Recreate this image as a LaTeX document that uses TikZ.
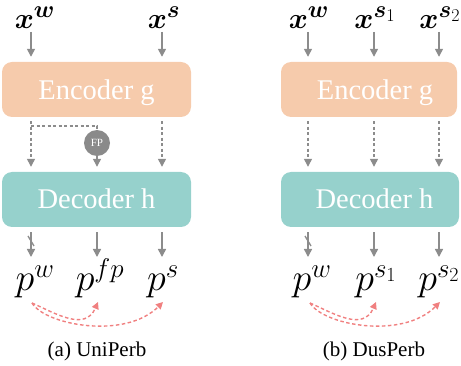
\RequirePackage{fix-cm}
\documentclass[tikz,border=0pt]{standalone}
\usepackage{amsmath,bm}
\usepackage{fontspec}
\setmainfont{Liberation Serif}
\usetikzlibrary{arrows.meta}
\DeclareMathSizes{29}{29}{24}{18}
\DeclareMathSizes{38}{38}{27}{20}
\definecolor{encc}{RGB}{246,203,172}
\definecolor{decc}{RGB}{150,209,204}
\definecolor{arrc}{RGB}{140,140,140}
\definecolor{fpc}{RGB}{138,138,138}
\definecolor{salm}{RGB}{240,128,128}
\tikzset{
  encbox/.style={fill=encc, rounded corners=10pt, minimum height=55pt, inner sep=0pt},
  decbox/.style={fill=decc, rounded corners=10pt, minimum height=55pt, inner sep=0pt},
  boxtext/.style={text=white, font=\fontsize{28.5}{34}\selectfont, inner sep=0pt, anchor=base},
  xlab/.style={font=\fontsize{29}{34}\selectfont, inner sep=0pt, anchor=base},
  plab/.style={font=\fontsize{38}{44}\selectfont, inner sep=0pt, anchor=base},
  caplab/.style={font=\fontsize{21}{25}\selectfont, inner sep=0pt, anchor=base},
  garrow/.style={draw=arrc, line width=1.5pt, -{Triangle[width=8pt,length=8pt]}},
  gdash/.style={draw=arrc, line width=1.3pt, dash pattern=on 3pt off 2.5pt},
  gdasharrow/.style={gdash, -{Triangle[width=8pt,length=8pt]}},
  rarrow/.style={draw=salm, line width=1.4pt, dash pattern=on 3.5pt off 2.5pt, -{Triangle[width=7pt,length=7pt]}},
  fpnode/.style={circle, fill=fpc, minimum size=26pt, inner sep=0pt, text=white, font=\fontsize{11}{13}\selectfont},
}
\begin{document}
\begin{tikzpicture}[x=1pt,y=-1pt]
\useasboundingbox (0,0) rectangle (461,366);
% columns
\coordinate (cA1) at (31,0);
\coordinate (cA2) at (97,0);
\coordinate (cA3) at (162,0);
\coordinate (cB1) at (308,0);
\coordinate (cB2) at (374,0);
\coordinate (cB3) at (439,0);
\coordinate (xbot) at (0,32);
\coordinate (ptop) at (0,257);
% boxes
\node[encbox, minimum width=189pt] (encA) at (96.5,89.5) {};
\node[decbox, minimum width=189pt] (decA) at (96.5,199.5) {};
\node[encbox, minimum width=176pt] (encB) at (369,89.5) {};
\node[decbox, minimum width=178pt] (decB) at (370,199.5) {};
\node[boxtext] (encAt) at (96.5,100) {Encoder g};
\node[boxtext] (decAt) at (96.5,209) {Decoder h};
\node[boxtext] (encBt) at (375,100) {Encoder g};
\node[boxtext] (decBt) at (374.5,209) {Decoder h};
% input labels
\node[xlab] (xwA) at (35,28.5) {$\bm{x}^{\bm{w}}$};
\node[xlab] (xsA) at (164,28.5) {$\bm{x}^{\bm{s}}$};
\node[xlab] (xwB) at (309,28.5) {$\bm{x}^{\bm{w}}$};
\node[xlab] (xs1B) at (375,28.5) {$\bm{x}^{\bm{s}_1}$};
\node[xlab] (xs2B) at (440,28.5) {$\bm{x}^{\bm{s}_2}$};
% output labels
\node[plab] (pwA) at (35,291) {$p^w$};
\node[plab] (pfpA) at (100,291) {$p^{fp}$};
\node[plab] (psA) at (163,291) {$p^s$};
\node[plab] (pwB) at (312,291) {$p^w$};
\node[plab] (ps1B) at (376,291) {$p^{s_1}$};
\node[plab] (ps2B) at (439,291) {$p^{s_2}$};
% captions
\node[caplab] (capA) at (97,357) {(a) UniPerb};
\node[caplab] (capB) at (374,357) {(b) DusPerb};
% FP
\node[fpnode] (fp) at (97,143) {FP};
% input arrows
\draw[garrow, shorten >=5pt] (xbot -| cA1) -- (encA.north -| cA1);
\draw[garrow, shorten >=5pt] (xbot -| cA3) -- (encA.north -| cA3);
\draw[garrow, shorten >=5pt] (xbot -| cB1) -- (encB.north -| cB1);
\draw[garrow, shorten >=5pt] (xbot -| cB2) -- (encB.north -| cB2);
\draw[garrow, shorten >=5pt] (xbot -| cB3) -- (encB.north -| cB3);
% encoder -> decoder (dashed)
\draw[gdasharrow, shorten <=4pt, shorten >=5pt] (encA.south -| cA1) -- (decA.north -| cA1);
\draw[gdasharrow, shorten <=4pt, shorten >=5pt] (encA.south -| cA3) -- (decA.north -| cA3);
\coordinate (brA) at (31,126);
\coordinate (brB) at (97,126);
\draw[gdash] (brA) -- (brB) -- (fp.north);
\draw[gdasharrow, shorten >=5pt] (fp.south) -- (decA.north -| fp);
\draw[gdasharrow, shorten <=4pt, shorten >=5pt] (encB.south -| cB1) -- (decB.north -| cB1);
\draw[gdasharrow, shorten <=4pt, shorten >=5pt] (encB.south -| cB2) -- (decB.north -| cB2);
\draw[gdasharrow, shorten <=4pt, shorten >=5pt] (encB.south -| cB3) -- (decB.north -| cB3);
% decoder -> outputs
\draw[garrow, shorten <=5pt] (decA.south -| cA1) -- (ptop -| cA1);
\draw[garrow, shorten <=5pt] (decA.south -| cA2) -- (ptop -| cA2);
\draw[garrow, shorten <=5pt] (decA.south -| cA3) -- (ptop -| cA3);
\draw[garrow, shorten <=5pt] (decB.south -| cB1) -- (ptop -| cB1);
\draw[garrow, shorten <=5pt] (decB.south -| cB2) -- (ptop -| cB2);
\draw[garrow, shorten <=5pt] (decB.south -| cB3) -- (ptop -| cB3);
% stop-gradient slashes
\draw[arrc, line width=1.3pt] (28,236) -- (34,246);
\draw[arrc, line width=1.3pt] (305,236) -- (311,246);
% consistency curves
\coordinate (rA0) at (32,303);
\coordinate (rA1) at (98,302);
\coordinate (rA2) at (163,302);
\draw[rarrow] (rA0) .. controls (55,313) and (85,332) .. (rA1);
\draw[rarrow] (rA0) .. controls (45,325) and (125,340) .. (rA2);
\coordinate (rB0) at (310,303);
\coordinate (rB1) at (376,302);
\coordinate (rB2) at (440,302);
\draw[rarrow] (rB0) .. controls (333,313) and (363,332) .. (rB1);
\draw[rarrow] (rB0) .. controls (323,325) and (402,340) .. (rB2);
\end{tikzpicture}
\end{document}
